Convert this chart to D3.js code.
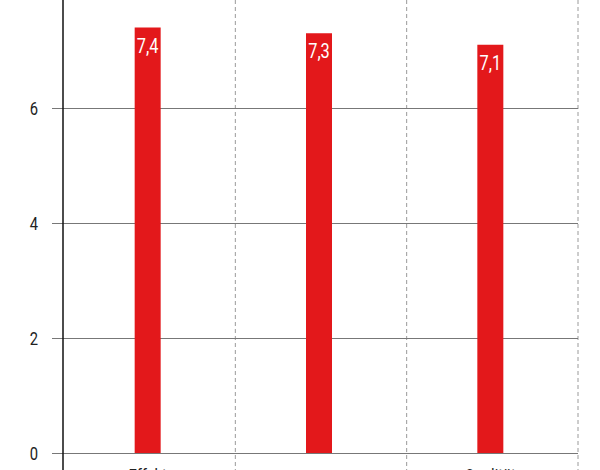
<!DOCTYPE html>
<html>
<head>
<meta charset="utf-8">
<script src="https://cdn.jsdelivr.net/npm/d3@7"></script>
<style>
  body { margin: 0; background: #fff; }
  text { font-family: Roboto, "DejaVu Sans", sans-serif; }
</style>
</head>
<body>
<div id="chart"></div>
<script>
// data
var categories = ['Effekt', 'summe', 'Qualität']
var values = [7.4, 7.3, 7.1]
var yTicks = [0, 2, 4, 6]
var valueLabels = ['7,4', '7,3', '7,1']

var width = 600
var height = 470
var left = 64
var right = 578
var baseY = 453

var x = d3.scaleBand().domain(categories).range([left, right]).paddingInner(0).paddingOuter(0)
var y = d3.scaleLinear().domain([0, 8]).range([baseY, baseY - 8 * 57.5])

var svg = d3.select('#chart').append('svg')
  .attr('width', width)
  .attr('height', height)

// dashed category separators
svg.append('g').selectAll('line')
  .data(categories)
  .enter().append('line')
  .attr('x1', function(d) { return x(d) + x.bandwidth() })
  .attr('x2', function(d) { return x(d) + x.bandwidth() })
  .attr('y1', 0)
  .attr('y2', height)
  .attr('stroke', '#9a9a9a')
  .attr('stroke-width', 1)
  .attr('stroke-dasharray', '4,3')

// horizontal grid
var yAxis = svg.append('g')
  .attr('transform', 'translate(' + right + ',0)')
  .call(d3.axisLeft(y).tickValues(yTicks).tickSize(right - 52).tickFormat(''))
yAxis.select('.domain').remove()
yAxis.selectAll('.tick line').attr('stroke', '#777').attr('stroke-width', 1.2)

// tick labels, narrowed like the condensed face of the original
svg.append('g').selectAll('text')
  .data(yTicks)
  .enter().append('text')
  .attr('transform', function(d) { return 'translate(34,' + (y(d) + 6.5) + ') scale(0.82,1)' })
  .attr('text-anchor', 'middle')
  .attr('fill', '#222')
  .style('font-size', '18px')
  .text(function(d) { return d })

// bars
svg.append('g').selectAll('rect')
  .data(values)
  .enter().append('rect')
  .attr('x', function(d, i) { return x(categories[i]) + x.bandwidth() / 2 - 15 })
  .attr('width', 26)
  .attr('y', function(d) { return y(d) })
  .attr('height', function(d) { return y(0) - y(d) })
  .attr('fill', '#e3181b')

// value labels inside bars
svg.append('g').selectAll('text')
  .data(values)
  .enter().append('text')
  .attr('transform', function(d, i) {
    return 'translate(' + (x(categories[i]) + x.bandwidth() / 2 - 2) + ',' + (y(d) + 25) + ') scale(0.78,1)'
  })
  .attr('text-anchor', 'middle')
  .attr('fill', '#fff')
  .style('font-size', '21px')
  .text(function(d, i) { return valueLabels[i] })

// y axis line
svg.append('line')
  .attr('x1', left - 1).attr('x2', left - 1)
  .attr('y1', 0).attr('y2', height)
  .attr('stroke', '#111')
  .attr('stroke-width', 1.5)

// category labels (mostly cut off below the frame)
svg.append('g').selectAll('text')
  .data(categories)
  .enter().append('text')
  .attr('transform', function(d) { return 'translate(' + (x(d) + x.bandwidth() / 2 - 2) + ',482) scale(0.82,1)' })
  .attr('text-anchor', 'middle')
  .attr('fill', '#222')
  .style('font-size', '18px')
  .text(function(d) { return d })
</script>
</body>
</html>
